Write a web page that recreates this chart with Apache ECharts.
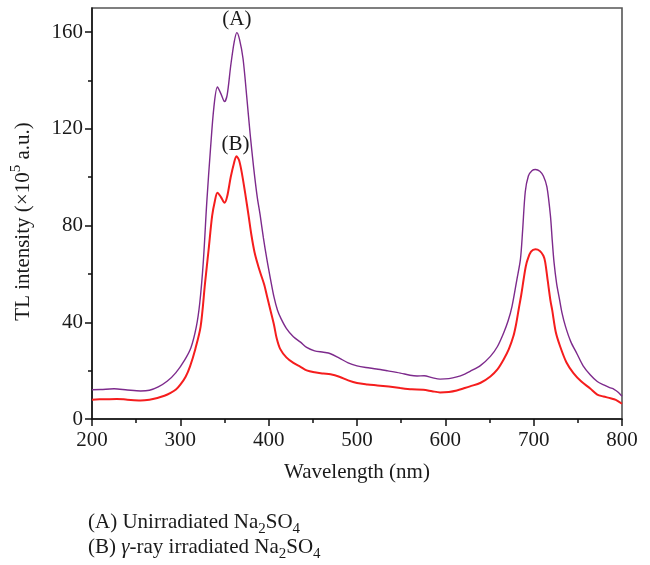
<!DOCTYPE html>
<html>
<head>
<meta charset="utf-8">
<script src="https://cdn.jsdelivr.net/npm/echarts@6/dist/echarts.min.js"></script>
<style>
html,body{margin:0;padding:0;background:#fff;}
#chart{width:650px;height:565px;}
</style>
</head>
<body>
<div id="chart"></div>
<script>
// Series A: Unirradiated Na2SO4 (wavelength nm, TL intensity x10^5 a.u.)
var wlA = [200,210,225,240,255,265,275,285,295,305,312,318,322,326,330,334,338,342,346,350,353,357,361,364,367,371,375,379,383,387,390.5,394,398,402,406,410,414,420,428,436,443,452,462,470,480,490,500,510,522,535,549,560,568,576,585,594,604,613,622,628,640,651,659,666,671,675.5,681,685,687.5,690.5,694,698,702,707,711,715,719,721,723,726,729,732,736,742,749,756,764,772,780,786,791,796,800];
var valA = [12.1,12.2,12.5,12.0,11.6,11.9,13.3,15.6,19.2,24.5,29.5,38,48,65,90,111,129,137.3,134.5,131.3,134,146,156,159.8,157,149,134,118,104,92,84,75,66,58,50.5,45,41.5,37.5,34,31.8,29.6,28.2,27.6,27,25.2,23.2,22,21.3,20.7,19.9,19,18.1,17.8,17.9,17.1,16.5,16.7,17.4,18.6,19.7,22.2,25.9,30,35.6,40.5,46.6,57.7,66,78,94,100.5,102.7,103.2,102.5,100.5,96,84,74,65,56,50,44,38.3,32,27,22,18.3,15.5,14,13,12.3,11,9.4];
// Series B: gamma-ray irradiated Na2SO4
var wlB = [200,215,228,240,255,265,274,282,289,295,300,306,311,317,323,328,332,336,339,342,346,350,353,357,360.5,363.5,366.5,370,374,377.3,380.5,384,388,391,395,398,402,406,409,413,420,428,436,443,452,462,470,480,490,500,512,523,536,549,562,575,585,594,604,613,622,628,640,651,659,666,672,677,680,683,686,688.6,691,693.2,697,702,707,711,713,716,719,721,725,730,737,745,754,764,772,779,787,793,800];
var valB = [8.0,8.2,8.3,8.0,7.7,8.0,8.7,9.6,10.8,12.2,14.2,17.5,21.8,29,38.3,56.3,70,84,90,93.6,91.8,89.4,92,100,105.5,108.7,107,101,92,84,76,69,63.5,60,55.5,51,45,39,33.5,29,25.5,23.2,21.6,20.1,19.3,18.8,18.5,17.5,16,14.9,14.3,13.9,13.4,12.8,12.3,12.1,11.5,11.0,11.2,11.8,12.8,13.5,15,17.6,20.5,24.6,29,34.2,39,45.3,51.5,57.7,63,66,69.2,70.2,69.5,67.5,65,57,49,45,36,30,23.5,19,15.5,12.6,10.1,9.3,8.6,7.9,6.3];

var xTicks = [200,300,400,500,600,700,800];
var yMajorTicks = [0,40,80,120,160];
var yMinorTicks = [20,60,100,140];
var peakA = [364,159.8];
var peakB = [363.5,108.7];
var xName = 'Wavelength (nm)';
var legendA = ['(A) Unirradiated Na','2','SO','4'];
var legendB = ['(B) ','γ','-ray irradiated Na','2','SO','4'];

function pairs(xs, ys){ return xs.map(function(x,i){ return [x, ys[i]]; }); }

var FONT = 'Liberation Serif';
var TXT = '#1a1a1a';
var FS = 21;
var chart = echarts.init(document.getElementById('chart'), null, {renderer:'canvas'});

var legendRich = {
  t: {fontFamily: FONT, fontSize: FS, fill: TXT, lineHeight: 28, verticalAlign: 'middle'},
  i: {fontFamily: FONT, fontSize: FS, fontStyle: 'italic', fill: TXT, lineHeight: 28, verticalAlign: 'middle'},
  s: {fontFamily: FONT, fontSize: 15, fill: TXT, lineHeight: 15, verticalAlign: 'bottom'}
};

var option = {
  animation: false,
  backgroundColor: '#fff',
  grid: {left: 92, right: 28, top: 8, bottom: 146, show: true, borderColor: '#555', borderWidth: 1.6, backgroundColor: 'transparent'},
  xAxis: {
    type: 'value', min: 200, max: 800, interval: 100,
    name: xName, nameLocation: 'middle', nameGap: 43,
    nameTextStyle: {fontFamily: FONT, fontSize: FS, color: TXT},
    axisLine: {show: true, lineStyle: {color: '#111', width: 1.5}},
    axisTick: {show: true, inside: false, length: 7, lineStyle: {color: '#111', width: 1.5}},
    minorTick: {show: true, splitNumber: 2, length: 4, lineStyle: {color: '#111', width: 1.5}},
    axisLabel: {fontFamily: FONT, fontSize: FS, color: TXT, margin: 11, customValues: xTicks},
    splitLine: {show: false}
  },
  yAxis: [{
    type: 'value', min: 0, max: 170, position: 'left',
    name: '{t|TL intensity (×10}{s|5}{t| a.u.)}', nameLocation: 'middle', nameRotate: 90, nameGap: 55,
    nameTextStyle: {fontFamily: FONT, fontSize: FS, color: TXT, padding: [0, 0, 0, -16],
      rich: {t: {fontFamily: FONT, fontSize: FS, color: TXT, lineHeight: 28}, s: {fontFamily: FONT, fontSize: 15, color: TXT, verticalAlign: 'top', lineHeight: 15}}},
    axisLine: {show: true, lineStyle: {color: '#111', width: 1.5}},
    axisTick: {show: true, inside: false, length: 7, customValues: yMajorTicks, lineStyle: {color: '#111', width: 1.5}},
    axisLabel: {fontFamily: FONT, fontSize: FS, color: TXT, margin: 9, customValues: yMajorTicks},
    splitLine: {show: false}
  }, {
    type: 'value', min: 0, max: 170, position: 'left',
    axisLine: {show: false},
    axisTick: {show: true, inside: false, length: 4, customValues: yMinorTicks, lineStyle: {color: '#111', width: 1.5}},
    axisLabel: {show: false},
    splitLine: {show: false}
  }],
  series: [{
    name: 'A', type: 'line', yAxisIndex: 0, data: pairs(wlA, valA), showSymbol: false, symbol: 'none',
    smooth: 0.3, lineStyle: {color: '#7d2a8c', width: 1.4}, z: 3,
    markPoint: {symbol: 'circle', symbolSize: 0, silent: true,
      data: [{coord: peakA, label: {show: true, position: 'top', distance: 3, formatter: '(A)', fontFamily: FONT, fontSize: FS, color: TXT}}]}
  }, {
    name: 'B', type: 'line', yAxisIndex: 0, data: pairs(wlB, valB), showSymbol: false, symbol: 'none',
    smooth: 0.3, lineStyle: {color: '#f51d1d', width: 2}, z: 4,
    markPoint: {symbol: 'circle', symbolSize: 0, silent: true,
      data: [{coord: peakB, label: {show: true, position: 'top', distance: 1, offset: [-1, 0], formatter: '(B)', fontFamily: FONT, fontSize: FS, color: TXT}}]}
  }],
  graphic: [{
    type: 'text', left: 88, top: 512,
    style: {text: '{t|' + legendA[0] + '}{s|' + legendA[1] + '}{t|' + legendA[2] + '}{s|' + legendA[3] + '}', rich: legendRich}
  }, {
    type: 'text', left: 88, top: 537,
    style: {text: '{t|' + legendB[0] + '}{i|' + legendB[1] + '}{t|' + legendB[2] + '}{s|' + legendB[3] + '}{t|' + legendB[4] + '}{s|' + legendB[5] + '}', rich: legendRich}
  }]
};
chart.setOption(option);
</script>
</body>
</html>
